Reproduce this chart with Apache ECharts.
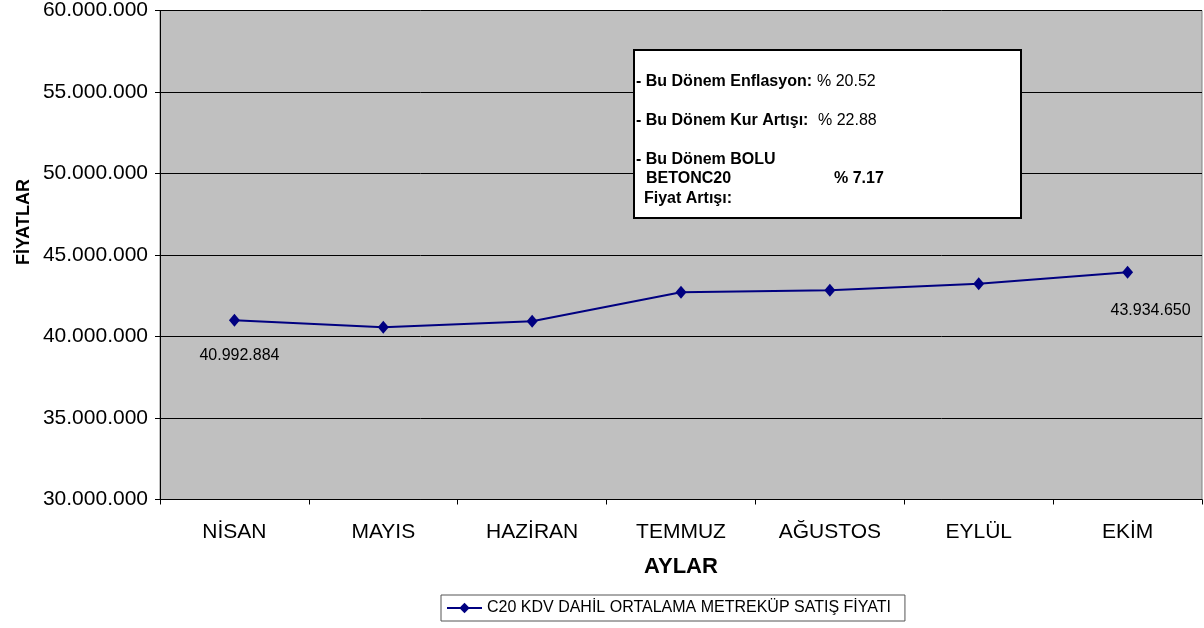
<!DOCTYPE html>
<html>
<head>
<meta charset="utf-8">
<script src="https://cdn.jsdelivr.net/npm/echarts@6/dist/echarts.min.js"></script>
<style>
html,body{margin:0;padding:0;background:#fff;}
#c{width:1204px;height:628px;}
</style>
</head>
<body>
<div id="c"></div>
<script>
var categories = ['NİSAN','MAYIS','HAZİRAN','TEMMUZ','AĞUSTOS','EYLÜL','EKİM'];
var seriesName = 'C20 KDV DAHİL ORTALAMA METREKÜP SATIŞ FİYATI';
var prices = [40992884, 40570000, 40930000, 42720000, 42830000, 43240000, 43934650];
var yTicks = [30000000, 35000000, 40000000, 45000000, 50000000, 55000000, 60000000];
var labelledPoints = [0, 6];
var boxLabels = ['- Bu Dönem Enflasyon:', '- Bu Dönem Kur Artışı:', '- Bu Dönem BOLU', 'BETONC20', 'Fiyat Artışı:'];
var boxValues = ['% 20.52', '% 22.88', '% 7.17'];
var xTitle = 'AYLAR';
var yTitle = 'FİYATLAR';

function fmt(v){ return String(Math.round(v)).replace(/\B(?=(\d{3})+(?!\d))/g, '.'); }

var font = 'Arial, "Liberation Sans", sans-serif';
var labelOffsets = {0: [5, 35], 6: [23, 38]};
var seriesData = prices.map(function(v, i){
  var d = {value: v};
  if (labelledPoints.indexOf(i) >= 0) {
    d.label = {show: true, position: 'inside', offset: labelOffsets[i], formatter: function(p){ return fmt(p.value); },
      color: '#000', fontSize: 16, fontFamily: font, align: 'center', verticalAlign: 'middle'};
  }
  return d;
});

var chart = echarts.init(document.getElementById('c'), null, {renderer: 'canvas'});
chart.setOption({
  animation: false,
  backgroundColor: '#fff',
  textStyle: {fontFamily: font},
  grid: {left: 160, right: 2, top: 10, bottom: 128.5, show: true, backgroundColor: '#c0c0c0', borderColor: '#808080', borderWidth: 1},
  legend: {
    data: [seriesName], left: 441, top: 595, padding: [5, 14, 5, 5],
    borderColor: '#555', borderWidth: 1, borderRadius: 0,
    itemWidth: 35, itemHeight: 13,
    textStyle: {color: '#000', fontSize: 16, fontFamily: font}
  },
  xAxis: {
    type: 'category', data: categories, boundaryGap: true,
    name: xTitle, nameLocation: 'middle', nameGap: 56,
    nameTextStyle: {color: '#000', fontSize: 22, fontWeight: 'bold', fontFamily: font},
    axisLine: {lineStyle: {color: '#000', width: 1}},
    axisTick: {show: true, length: 5, lineStyle: {color: '#000'}},
    axisLabel: {color: '#000', fontSize: 21, margin: 22, fontFamily: font},
    splitLine: {show: false}
  },
  yAxis: {
    type: 'value', min: yTicks[0], max: yTicks[yTicks.length - 1], interval: yTicks[1] - yTicks[0],
    axisLine: {show: true, lineStyle: {color: '#000', width: 1}},
    axisTick: {show: true, length: 5, lineStyle: {color: '#000'}},
    axisLabel: {color: '#000', fontSize: 21, margin: 12, fontFamily: font, formatter: fmt},
    splitLine: {show: true, lineStyle: {color: '#000', width: 1}}
  },
  graphic: [
    {type: 'text', x: 24, y: 222, rotation: Math.PI / 2, style: {text: yTitle, fill: '#000', font: 'bold 18px ' + font, align: 'center', verticalAlign: 'middle'}},
    {type: 'rect', shape: {x: 634, y: 50, width: 387, height: 168}, style: {fill: '#fff', stroke: '#000', lineWidth: 2}, z: 10},
    {type: 'text', x: 636, y: 82, z: 11, style: {text: boxLabels[0], fill: '#000', font: 'bold 16px ' + font, verticalAlign: 'middle'}},
    {type: 'text', x: 817, y: 82, z: 11, style: {text: boxValues[0], fill: '#000', font: '16px ' + font, verticalAlign: 'middle'}},
    {type: 'text', x: 636, y: 121, z: 11, style: {text: boxLabels[1], fill: '#000', font: 'bold 16px ' + font, verticalAlign: 'middle'}},
    {type: 'text', x: 818, y: 121, z: 11, style: {text: boxValues[1], fill: '#000', font: '16px ' + font, verticalAlign: 'middle'}},
    {type: 'text', x: 636, y: 160, z: 11, style: {text: boxLabels[2], fill: '#000', font: 'bold 16px ' + font, verticalAlign: 'middle'}},
    {type: 'text', x: 646, y: 179, z: 11, style: {text: boxLabels[3], fill: '#000', font: 'bold 16px ' + font, verticalAlign: 'middle'}},
    {type: 'text', x: 834, y: 179, z: 11, style: {text: boxValues[2], fill: '#000', font: 'bold 16px ' + font, verticalAlign: 'middle'}},
    {type: 'text', x: 644, y: 199, z: 11, style: {text: boxLabels[4], fill: '#000', font: 'bold 16px ' + font, verticalAlign: 'middle'}}
  ],
  series: [{
    name: seriesName, type: 'line', data: seriesData,
    symbol: 'diamond', symbolSize: [11, 13],
    lineStyle: {color: '#000080', width: 2},
    itemStyle: {color: '#000080'},
    label: {show: false}
  }]
});
</script>
</body>
</html>
